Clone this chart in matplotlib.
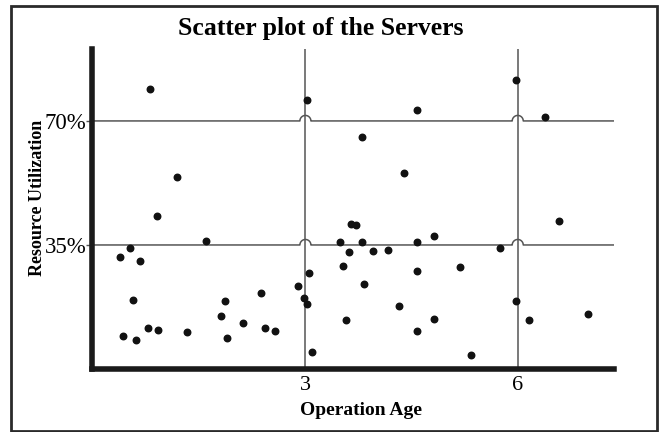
import numpy as np
import matplotlib.pyplot as plt
from matplotlib.patches import Rectangle

# data: operation age (years) and resource utilization (%)
age = [0.81, 3.02, 1.19, 0.90, 1.59, 0.52, 0.38, 0.66, 3.05, 2.89,
       0.57, 1.87, 2.37, 2.98, 3.02, 1.81, 2.12, 0.78, 0.92, 1.33,
       2.43, 2.57, 0.42, 0.60, 1.89, 3.10,
       5.97, 4.58, 6.39, 3.80, 4.40, 3.64, 3.72, 6.58, 4.81, 3.49,
       3.80, 4.58, 3.61, 3.95, 4.17, 5.75, 3.53, 5.19, 4.58, 3.83,
       5.97, 4.32, 3.57, 4.81, 6.16, 6.99, 4.58, 5.34]
util = [79.0, 75.8, 54.2, 43.3, 36.2, 34.2, 31.5, 30.6, 27.1, 23.5,
        19.5, 19.1, 21.4, 20.0, 18.3, 15.0, 13.1, 11.6, 11.0, 10.5,
        11.6, 10.7, 9.2, 8.3, 8.8, 4.9,
        81.6, 73.1, 71.0, 65.4, 55.4, 40.9, 40.6, 41.7, 37.4, 35.7,
        35.9, 35.7, 33.0, 33.3, 33.7, 34.2, 29.1, 28.8, 27.7, 24.0,
        19.3, 17.8, 13.8, 14.0, 13.7, 15.5, 10.7, 4.0]

x_grid = [3, 6]
y_grid = [35, 70]
y_labels = ['35%', '70%']

plt.rcParams['font.family'] = ['Liberation Serif', 'DejaVu Serif']

fig = plt.figure(figsize=(6.59, 4.32), dpi=100)
ax = fig.add_axes([92 / 659, 1 - 369 / 432, (614 - 92) / 659, (369 - 49) / 432])
ax.set_xlim(-0.015, 7.36)
ax.set_ylim(0, 90.3)

# frame round the whole figure
fig.patches.append(Rectangle((11 / 659, 1.5 / 432), 646 / 659, 424.5 / 432,
                             transform=fig.transFigure, fill=False,
                             edgecolor='#2a2a2a', linewidth=2))

ax.scatter(age, util, s=22, color='#111111', zorder=3)

# vertical grid lines
for gx in x_grid:
    ax.axvline(gx, color='#555555', linewidth=1.1, zorder=1)

# horizontal grid lines with small hops over the vertical ones
fig.canvas.draw()
r_px = 5.5
for gy in y_grid:
    x0, y0 = ax.transData.transform((ax.get_xlim()[0], gy))
    x1, _ = ax.transData.transform((ax.get_xlim()[1], gy))
    pts = [(x0, y0)]
    for gx in x_grid:
        cx, _ = ax.transData.transform((gx, gy))
        t = np.linspace(np.pi, 0, 30)
        pts += list(zip(cx + r_px * np.cos(t), y0 + r_px * np.sin(t)))
    pts.append((x1, y0))
    data_pts = ax.transData.inverted().transform(pts)
    ax.plot(data_pts[:, 0], data_pts[:, 1], color='#555555', linewidth=1.1, zorder=1)

for s in ['top', 'right']:
    ax.spines[s].set_visible(False)
for s in ['left', 'bottom']:
    ax.spines[s].set_linewidth(4)
    ax.spines[s].set_color('#1a1a1a')

ax.set_xticks(x_grid)
ax.set_xticklabels([str(v) for v in x_grid], fontsize=16)
ax.set_yticks(y_grid)
ax.set_yticklabels(y_labels, fontsize=16.5)
ax.tick_params(axis='x', length=0, pad=5)
ax.tick_params(axis='y', length=4, width=1, color='#555555', pad=0)

ax.set_xlabel('Operation Age', fontsize=14, fontweight='bold')
ax.xaxis.set_label_coords(0.515, -0.102)
ax.set_ylabel('Resource Utilization', fontsize=13, fontweight='bold')
ax.yaxis.set_label_coords(-0.088, 0.534)
fig.text(321 / 659, 1 - 28 / 432, 'Scatter plot of the Servers', fontsize=18.5,
         fontweight='bold', ha='center', va='center')

fig.savefig('out.png', dpi=100)
